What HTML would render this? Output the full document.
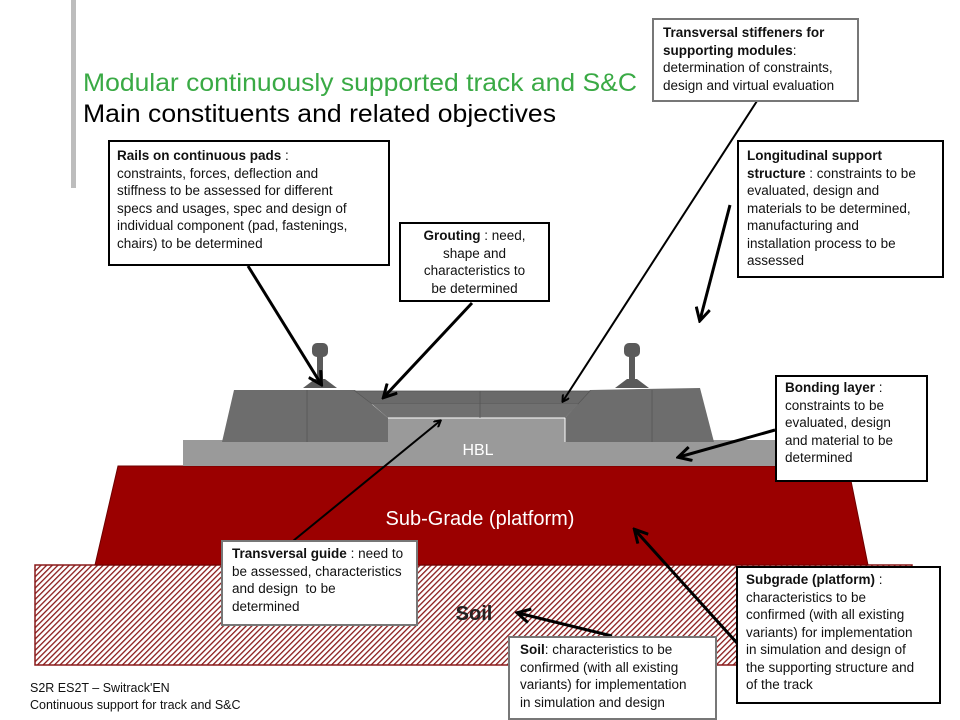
<!DOCTYPE html>
<html><head><meta charset="utf-8">
<style>
html,body{margin:0;padding:0;background:#fff;}
#c{position:relative;width:960px;height:720px;overflow:hidden;font-family:"Liberation Sans",Arial,sans-serif;}
.b{position:absolute;background:#fff;border:2px solid #000;box-sizing:border-box;font-size:13.5px;line-height:17.5px;color:#111;padding:5px 7px;white-space:nowrap;letter-spacing:0;}
.g{border-color:#777;}
svg{position:absolute;left:0;top:0;}
</style></head><body><div id="c">
<svg width="960" height="720" viewBox="0 0 960 720">
<defs>
<pattern id="h" width="4" height="4" patternUnits="userSpaceOnUse" patternTransform="rotate(45)">
<rect width="4" height="4" fill="#fff"/><rect width="1.3" height="4" fill="#8a1a1a"/>
</pattern>
<marker id="a" markerWidth="8" markerHeight="8" refX="6" refY="4" orient="auto" markerUnits="userSpaceOnUse" viewBox="0 0 8 8">
<path d="M0,0 L7,4 L0,8" fill="none" stroke="#000" stroke-width="2"/>
</marker>
<marker id="a2" markerWidth="16" markerHeight="16" refX="13" refY="8" orient="auto" markerUnits="userSpaceOnUse" viewBox="0 0 16 16">
<path d="M1,1 L14,8 L1,15" fill="none" stroke="#000" stroke-width="3"/>
</marker>
</defs>
<rect x="71" y="0" width="5" height="188" fill="#bdbdbd"/>
<text x="83" y="91" font-size="25" fill="#3aaa45" textLength="554" lengthAdjust="spacingAndGlyphs">Modular continuously supported track and S&amp;C</text>
<text x="83" y="122" font-size="25" fill="#000" textLength="473" lengthAdjust="spacingAndGlyphs">Main constituents and related objectives</text>
<rect x="35" y="565" width="877" height="100" fill="url(#h)" stroke="#8a1a1a" stroke-width="1.5"/>
<polygon points="118,466 848,466 868,565 95,565" fill="#9b0000" stroke="#6e0000" stroke-width="1"/>
<text x="480" y="525" font-size="20" fill="#fff" text-anchor="middle">Sub-Grade (platform)</text>
<rect x="183" y="440" width="592" height="26" fill="#9a9a9a"/>
<rect x="388" y="418" width="177" height="30" fill="#9a9a9a"/>
<text x="478" y="455" font-size="16" fill="#fff" text-anchor="middle">HBL</text>
<polygon points="222,442 234,390 355,390 388,418 388,442" fill="#6d6d6d"/>
<polygon points="565,442 565,418 590,390 700,388 714,442" fill="#6d6d6d"/>
<polygon points="355,391 590,391 578,404 372,404" fill="#6a6a6a" stroke="#555" stroke-width="0.7"/>
<polygon points="372,404 578,404 565,418 388,418" fill="#707070"/>
<line x1="388" y1="418" x2="565" y2="418" stroke="#fff" stroke-width="1"/>
<line x1="565" y1="418" x2="565" y2="442" stroke="#fff" stroke-width="1"/>
<line x1="307" y1="390" x2="307" y2="442" stroke="#555" stroke-width="0.8"/>
<line x1="652" y1="390" x2="652" y2="442" stroke="#555" stroke-width="0.8"/>
<line x1="480" y1="391" x2="480" y2="418" stroke="#555" stroke-width="0.8"/>
<g fill="#5a5a5a">
<rect x="312" y="343" width="16" height="14" rx="5"/><rect x="317" y="355" width="6" height="26"/><polygon points="303,388 337,388 325,379 315,379"/>
<rect x="624" y="343" width="16" height="14" rx="5"/><rect x="629" y="355" width="6" height="26"/><polygon points="615,388 649,388 637,379 627,379"/>
</g>
<g stroke="#000" fill="none">
<line x1="248" y1="266" x2="321" y2="384" stroke-width="3" marker-end="url(#a2)"/>
<line x1="472" y1="303" x2="384" y2="397" stroke-width="3" marker-end="url(#a2)"/>
<line x1="757" y1="101" x2="563" y2="401" stroke-width="2" marker-end="url(#a)"/>
<line x1="730" y1="205" x2="700" y2="320" stroke-width="3" marker-end="url(#a2)"/>
<line x1="775" y1="430" x2="679" y2="457" stroke-width="3" marker-end="url(#a2)"/>
<line x1="293" y1="541" x2="440" y2="421" stroke-width="2" marker-end="url(#a)"/>
<line x1="737" y1="643" x2="635" y2="530" stroke-width="3" marker-end="url(#a2)"/>
<line x1="612" y1="636" x2="518" y2="613" stroke-width="3" marker-end="url(#a2)"/>
</g>
<text x="474" y="620" font-size="20" font-weight="bold" fill="#222" text-anchor="middle">Soil</text>
<text x="30" y="692" font-size="12.5" fill="#111">S2R ES2T – Switrack'EN</text>
<text x="30" y="709" font-size="12.5" fill="#111">Continuous support for track and S&amp;C</text>
</svg>
<div class="b" style="left:108px;top:140px;width:282px;height:126px;"><b>Rails on continuous pads</b> :<br>constraints, forces, deflection and<br>stiffness to be assessed for different<br>specs and usages, spec and design of<br>individual component (pad, fastenings,<br>chairs) to be determined</div>
<div class="b" style="left:399px;top:222px;width:151px;height:80px;text-align:center;padding:3px 2px;"><b>Grouting</b> : need,<br>shape and<br>characteristics to<br>be determined</div>
<div class="b g" style="left:652px;top:18px;width:207px;height:84px;padding:4px 9px;"><b>Transversal stiffeners for<br>supporting modules</b>:<br>determination of constraints,<br>design and virtual evaluation</div>
<div class="b" style="left:737px;top:140px;width:207px;height:138px;padding:5px 8px;"><b>Longitudinal support<br>structure</b> : constraints to be<br>evaluated, design and<br>materials to be determined,<br>manufacturing and<br>installation process to be<br>assessed</div>
<div class="b" style="left:775px;top:375px;width:153px;height:107px;padding:2px 8px;"><b>Bonding layer</b> :<br>constraints to be<br>evaluated, design<br>and material to be<br>determined</div>
<div class="b g" style="left:221px;top:540px;width:197px;height:86px;padding:3px 9px;"><b>Transversal guide</b> : need to<br>be assessed, characteristics<br>and design &nbsp;to be<br>determined</div>
<div class="b" style="left:736px;top:566px;width:205px;height:138px;padding:3px 8px;"><b>Subgrade (platform)</b> :<br>characteristics to be<br>confirmed (with all existing<br>variants) for implementation<br>in simulation and design of<br>the supporting structure and<br>of the track</div>
<div class="b g" style="left:508px;top:636px;width:209px;height:84px;padding:3px 10px;"><b>Soil</b>: characteristics to be<br>confirmed (with all existing<br>variants) for implementation<br>in simulation and design</div>
</div></body></html>
